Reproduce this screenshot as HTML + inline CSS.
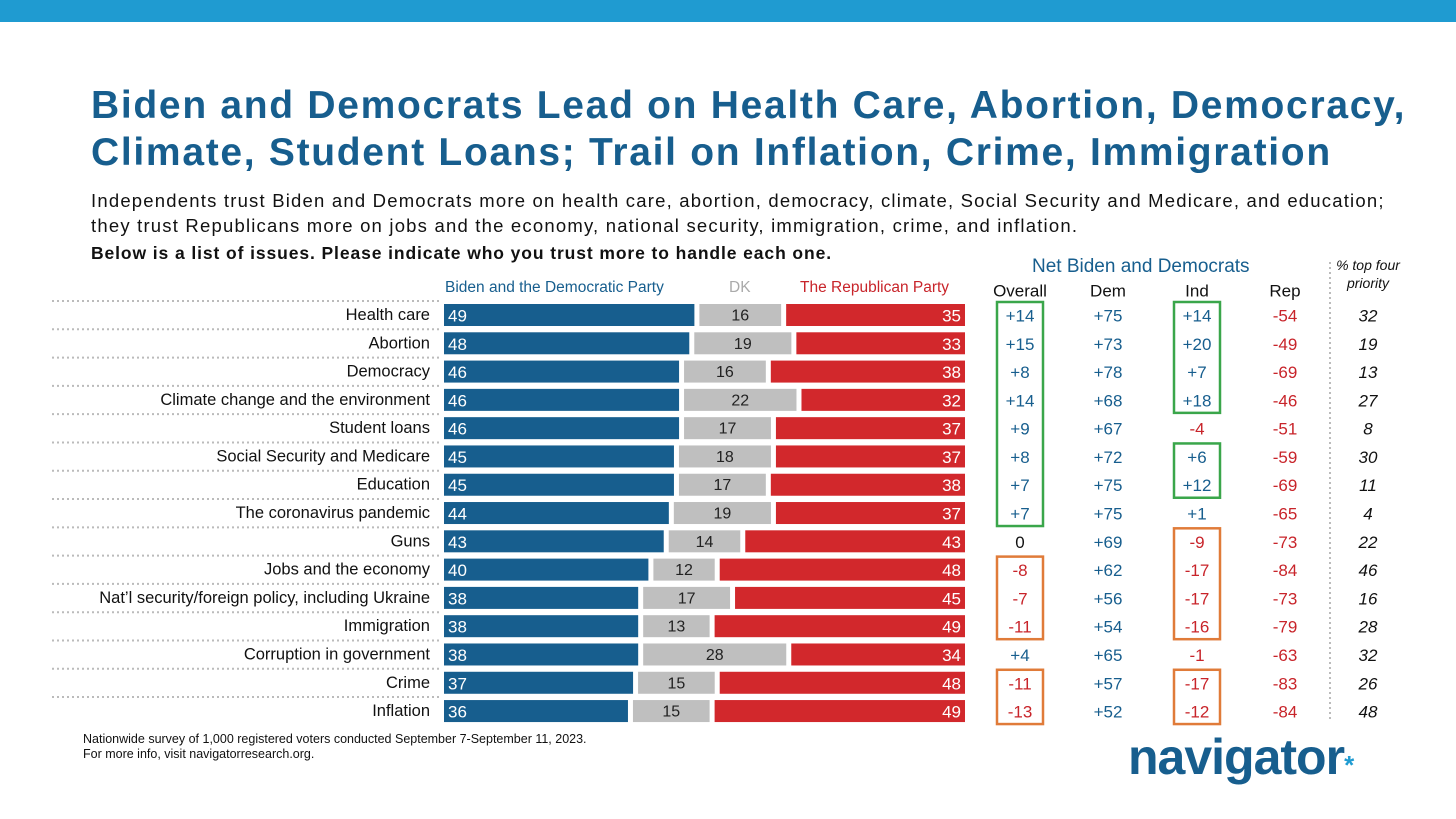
<!DOCTYPE html>
<html><head><meta charset="utf-8"><style>
body{margin:0;width:1456px;height:819px;background:#fff;font-family:"Liberation Sans",sans-serif;overflow:hidden;position:relative}
.a{position:absolute}
</style></head><body>
<div class="a" style="left:0;top:0;width:1456px;height:22px;background:#1f9bd1"></div>
<div class="a" style="left:91px;top:82px;font-size:39px;font-weight:bold;color:#175e8e;line-height:47px;letter-spacing:1.7px;white-space:nowrap">Biden and Democrats Lead on Health Care, Abortion, Democracy,<br>Climate, Student Loans; Trail on Inflation, Crime, Immigration</div>
<div class="a" style="left:91px;top:188px;font-size:18.5px;color:#111;line-height:25px;letter-spacing:1.2px;white-space:nowrap">Independents trust Biden and Democrats more on health care, abortion, democracy, climate, Social Security and Medicare, and education;<br>they trust Republicans more on jobs and the economy, national security, immigration, crime, and inflation.</div>
<div class="a" style="left:91px;top:243px;font-size:17.5px;font-weight:bold;color:#111;letter-spacing:0.9px;white-space:nowrap">Below is a list of issues. Please indicate who you trust more to handle each one.</div>
<div class="a" style="left:445px;top:279px;font-size:15.5px;color:#175e8e">Biden and the Democratic Party</div>
<div class="a" style="left:729px;top:279px;font-size:15.5px;color:#aaa">DK</div>
<div class="a" style="left:800px;top:279px;font-size:15.5px;color:#c8242a">The Republican Party</div>
<div class="a" style="left:1032px;top:256px;font-size:19px;color:#175e8e">Net Biden and Democrats</div>
<div class="a" style="left:1336px;top:256px;width:64px;text-align:center;font-size:14px;font-style:italic;color:#111;line-height:18px">% top four<br>priority</div>
<svg id="chart" class="a" style="left:0;top:0" width="1456" height="819"></svg>
<div class="a" style="left:83px;top:732px;font-size:12.5px;color:#111;line-height:15px">Nationwide survey of 1,000 registered voters conducted September 7-September 11, 2023.<br>For more info, visit navigatorresearch.org.</div>
<div class="a" style="left:1128px;top:728px;font-size:50px;font-weight:bold;color:#175e8e;letter-spacing:-1px">navigator<span style="color:#1f9bd1;font-size:26px">*</span></div>
<script>
const issues=["Health care","Abortion","Democracy","Climate change and the environment","Student loans","Social Security and Medicare","Education","The coronavirus pandemic","Guns","Jobs and the economy","Nat’l security/foreign policy, including Ukraine","Immigration","Corruption in government","Crime","Inflation"];
const dem=[49,48,46,46,46,45,45,44,43,40,38,38,38,37,36];
const dk=[16,19,16,22,17,18,17,19,14,12,17,13,28,15,15];
const rep=[35,33,38,32,37,37,38,37,43,48,45,49,34,48,49];
const netOverall=["+14","+15","+8","+14","+9","+8","+7","+7","0","-8","-7","-11","+4","-11","-13"];
const netDem=["+75","+73","+78","+68","+67","+72","+75","+75","+69","+62","+56","+54","+65","+57","+52"];
const netInd=["+14","+20","+7","+18","-4","+6","+12","+1","-9","-17","-17","-16","-1","-17","-12"];
const netRep=["-54","-49","-69","-46","-51","-59","-69","-65","-73","-84","-73","-79","-63","-83","-84"];
const priority=["32","19","13","27","8","30","11","4","22","46","16","28","32","26","48"];
const svg=document.getElementById('chart');const NS="http://www.w3.org/2000/svg";
const x0=444,unit=5.11,gap=5,y0=315,step=28.29,bh=22;
const xs=v=>v*unit, ys=i=>y0+i*step;
function mk(t,a,p){const e=document.createElementNS(NS,t);for(const k in a)e.setAttribute(k,a[k]);(p||svg).appendChild(e);return e;}
function txt(x,y,s,a){const e=mk('text',Object.assign({x:x,y:y,'dominant-baseline':'central','font-family':'Liberation Sans, sans-serif'},a));e.textContent=s;return e;}
const sc=s=>s.startsWith('-')?'#c8242a':'#175e8e';
for(let i=0;i<issues.length;i++){
 const y=ys(i);
 const ln=mk('line',{x1:52,x2:440,y1:y-14,y2:y-14,stroke:'#bbb','stroke-width':2,'stroke-dasharray':'2 3'});
 
 const lb=txt(430,y,issues[i],{'text-anchor':'end','font-size':16.5,fill:'#111'});
 
 const wb=xs(dem[i]),wg=xs(dk[i]),wr=xs(rep[i]);
 const b=mk('rect',{x:x0,y:y-bh/2,width:wb,height:bh,fill:'#175e8e'});
 
 const g=mk('rect',{x:x0+wb+gap,y:y-bh/2,width:wg,height:bh,fill:'#bfbfbf'});
 
 const r=mk('rect',{x:x0+wb+wg+2*gap,y:y-bh/2,width:wr,height:bh,fill:'#d2282c'});
 
 txt(x0+4,y+1,dem[i],{'font-size':17,fill:'#fff'});
 txt(x0+wb+gap+wg/2,y+1,dk[i],{'font-size':16,fill:'#222','text-anchor':'middle'});
 txt(x0+wb+wg+2*gap+wr-4,y+1,rep[i],{'font-size':17,fill:'#fff','text-anchor':'end'});
 const o=txt(1020,y+1,netOverall[i],{'font-size':17,fill:netOverall[i]==="0"?'#111':sc(netOverall[i]),'text-anchor':'middle'});
 txt(1108,y+1,netDem[i],{'font-size':17,fill:'#175e8e','text-anchor':'middle'});
 txt(1197,y+1,netInd[i],{'font-size':17,fill:sc(netInd[i]),'text-anchor':'middle'});
 txt(1285,y+1,netRep[i],{'font-size':17,fill:'#c8242a','text-anchor':'middle'});
 txt(1368,y+1,priority[i],{'font-size':17,fill:'#111','text-anchor':'middle','font-style':'italic'});
}
[["Overall",1020],["Dem",1108],["Ind",1197],["Rep",1285]].forEach(h=>{const t=txt(h[1],291,h[0],{'font-size':17,fill:'#111','text-anchor':'middle'});});
const vl=mk('line',{x1:1330,x2:1330,y1:262,y2:722,stroke:'#bbb','stroke-width':2,'stroke-dasharray':'2 3'});

const boxes=[[1020,0,7,'#3aa64a'],[1197,0,3,'#3aa64a'],[1197,5,6,'#3aa64a'],[1020,9,11,'#e07b39'],[1020,13,14,'#e07b39'],[1197,8,11,'#e07b39'],[1197,13,14,'#e07b39']];
boxes.forEach(bx=>{const r=mk('rect',{x:bx[0]-23,y:ys(bx[1])-13,width:46,height:ys(bx[2])-ys(bx[1])+26,fill:'none',stroke:bx[3],'stroke-width':2.5});});
</script>
</body></html>
